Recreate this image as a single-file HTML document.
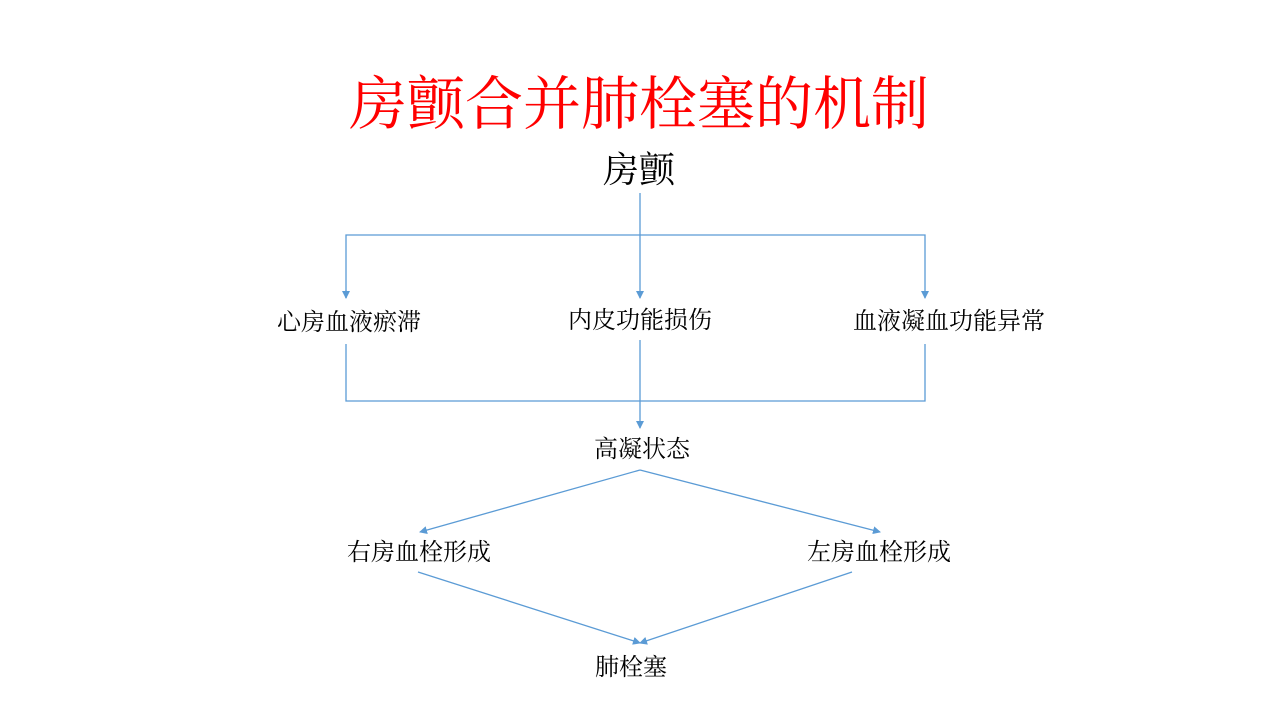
<!DOCTYPE html>
<html><head><meta charset="utf-8"><style>
body{margin:0;width:1280px;height:720px;background:#fff;position:relative;overflow:hidden;font-family:"Liberation Serif","Noto Serif CJK SC",serif;}
.t{position:absolute;white-space:nowrap;color:#000;transform:translateX(-50%);line-height:1;}
svg{position:absolute;left:0;top:0;}
</style></head><body>
<div class="t" style="left:639px;top:76px;font-size:58px;color:#ff0000;">房颤合并肺栓塞的机制</div>
<div class="t" style="left:639px;top:152px;font-size:36px;">房颤</div>
<div class="t" style="left:349px;top:311px;font-size:24px;">心房血液瘀滞</div>
<div class="t" style="left:640px;top:309px;font-size:24px;">内皮功能损伤</div>
<div class="t" style="left:949px;top:310px;font-size:24px;">血液凝血功能异常</div>
<div class="t" style="left:642px;top:438px;font-size:24px;">高凝状态</div>
<div class="t" style="left:419px;top:541px;font-size:24px;">右房血栓形成</div>
<div class="t" style="left:879px;top:541px;font-size:24px;">左房血栓形成</div>
<div class="t" style="left:631px;top:656px;font-size:24px;">肺栓塞</div>
<svg width="1280" height="720">
<defs><marker id="a" markerWidth="8" markerHeight="8" refX="7" refY="4" orient="auto" markerUnits="userSpaceOnUse"><path d="M0,0 L8,4 L0,8 z" fill="#5b9bd5"/></marker></defs>
<g stroke="#5b9bd5" stroke-width="1.3" fill="none">
<line x1="640" y1="193" x2="640" y2="298" marker-end="url(#a)"/>
<polyline points="346,298 346,235 925,235 925,298" marker-end="url(#a)"/>
<line x1="346" y1="290" x2="346" y2="298" marker-end="url(#a)"/>
<polyline points="346,344 346,401 925,401 925,344"/>
<line x1="640" y1="340" x2="640" y2="428" marker-end="url(#a)"/>
<line x1="640" y1="470" x2="420" y2="532" marker-end="url(#a)"/>
<line x1="640" y1="470" x2="880" y2="532" marker-end="url(#a)"/>
<line x1="418" y1="572" x2="640" y2="643" marker-end="url(#a)"/>
<line x1="852" y1="572" x2="640" y2="643" marker-end="url(#a)"/>
</g>
</svg>
</body></html>
